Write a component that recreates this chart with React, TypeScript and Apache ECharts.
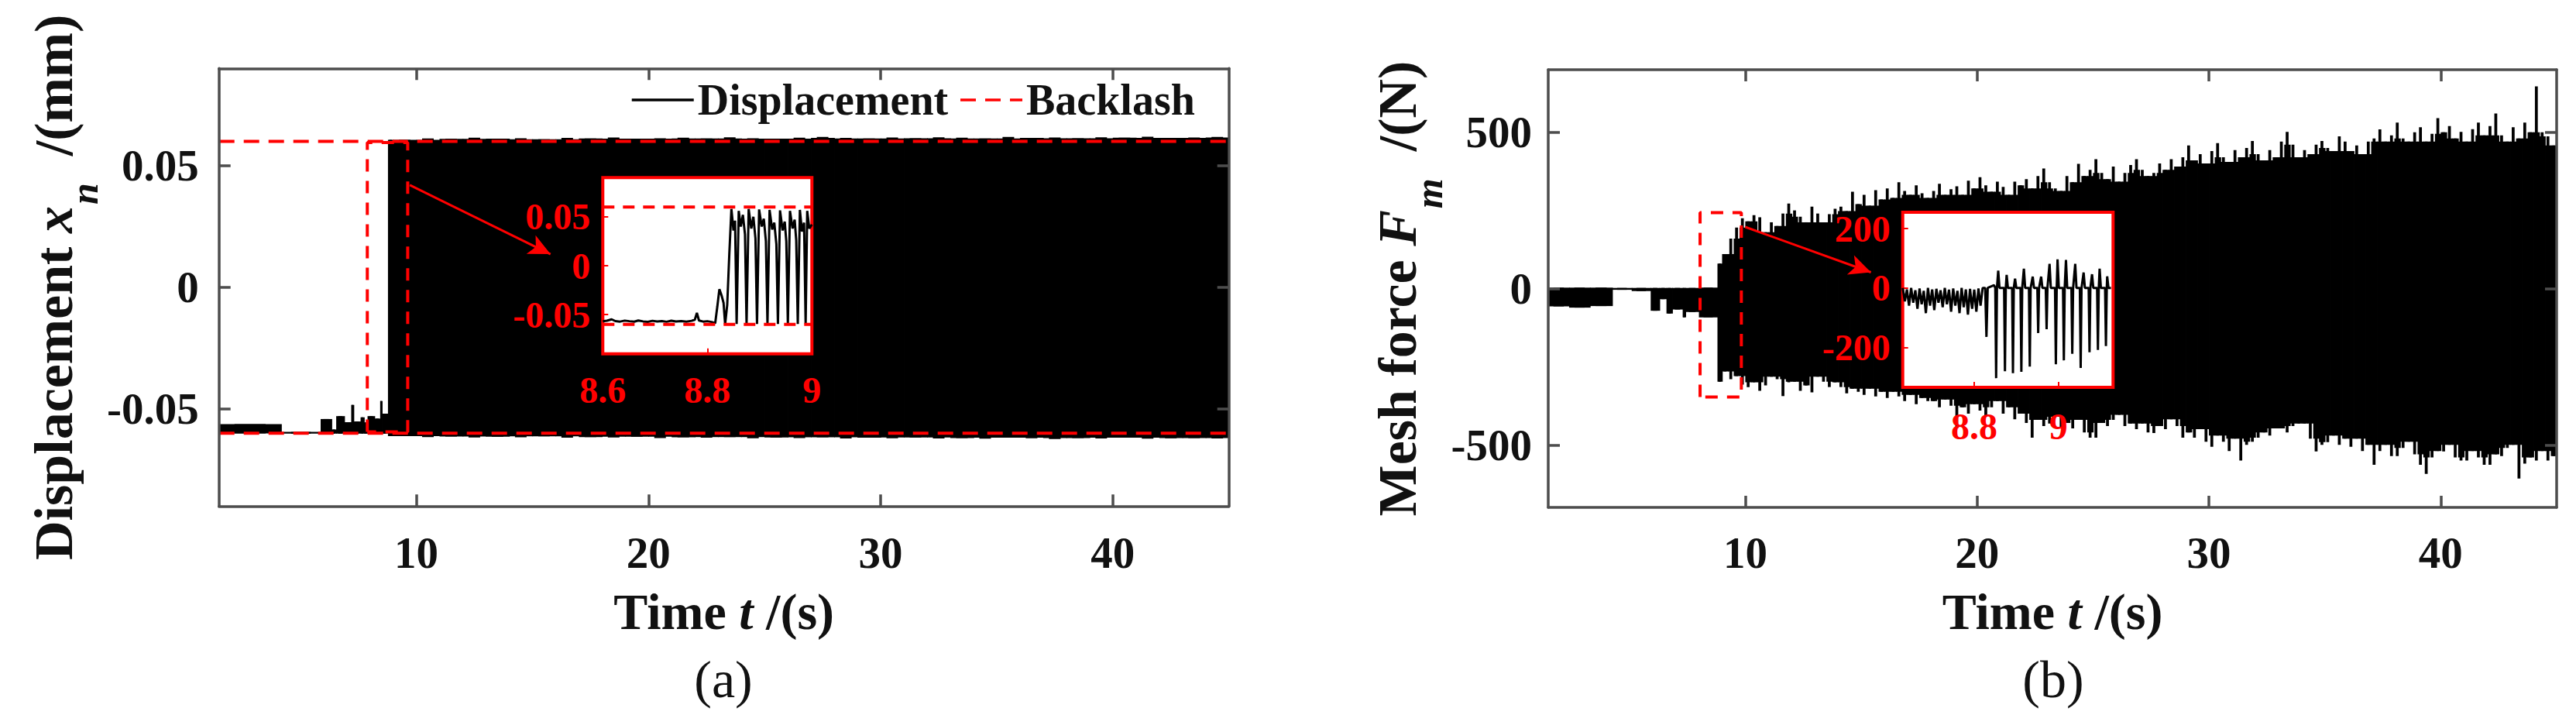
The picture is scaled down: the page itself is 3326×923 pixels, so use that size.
import React, { useEffect, useRef } from "react";
import * as echarts from "echarts";

// ---------------- styling constants ----------------
const FONT = "'Liberation Serif', 'Times New Roman', Times, serif";
const RED = "#ff0000";
const INK = "#111111";
const FRAME = "#4d4d4d";

// ---------------- shared time axis ----------------
const TIME_MIN = 1.5;
const TIME_MAX = 45;
const timeTicks = [10, 20, 30, 40];

// ---------------- (a) displacement ----------------
const DISP_MIN = -0.09;
const DISP_MAX = 0.09;
const dispTicks = [-0.05, 0, 0.05];
const BACKLASH = 0.06;

// segments before/at engagement: [t0, t1, low, high]
const dispPreSegments = [
  [1.5, 4.18, -0.0601, -0.0563],
  [4.18, 5.88, -0.0602, -0.0595],
  [5.88, 6.35, -0.0602, -0.0542],
  [6.35, 6.55, -0.0602, -0.0585],
  [6.55, 6.9, -0.0602, -0.053],
  [6.9, 7.2, -0.0602, -0.0555],
  [7.2, 7.3, -0.0602, -0.0484],
  [7.3, 7.6, -0.0602, -0.0552],
  [7.6, 7.75, -0.0602, -0.0535],
  [7.75, 7.9, -0.0602, -0.0556],
  [7.9, 8.2, -0.0602, -0.053],
  [8.2, 8.45, -0.0602, -0.054],
  [8.45, 8.52, -0.0602, -0.0468],
  [8.52, 8.78, -0.0602, -0.052],
  [8.78, 9.0, -0.0612, 0.0606],
];
// envelope of the rattling band, one value per second from t = 9 s
const DISP_BAND_START = 9;
const DISP_BAND_STEP = 1;
const dispUpper = [
  0.0606, 0.0612, 0.061, 0.0615, 0.0611, 0.0613, 0.0609, 0.0614, 0.0612, 0.0616,
  0.0611, 0.0613, 0.0615, 0.0612, 0.0617, 0.0613, 0.0611, 0.0615, 0.0618, 0.0614,
  0.0612, 0.0616, 0.0613, 0.0617, 0.0615, 0.0612, 0.0618, 0.0614, 0.0616, 0.0613,
  0.0617, 0.0615, 0.0619, 0.0614, 0.0616, 0.0618,
];
const dispLower = [
  -0.0612, -0.0616, -0.0614, -0.0618, -0.0615, -0.0617, -0.0613, -0.0619, -0.0616, -0.0618,
  -0.0615, -0.062, -0.0617, -0.0619, -0.0616, -0.0621, -0.0618, -0.062, -0.0617, -0.0622,
  -0.0619, -0.0621, -0.0618, -0.0622, -0.062, -0.0623, -0.0619, -0.0621, -0.0624, -0.062,
  -0.0622, -0.0619, -0.0623, -0.0621, -0.062, -0.0622,
];
const dispZoomBox = [7.89, 9.63, -0.0595, 0.0595];
const dispArrow = [
  [9.72, 0.042],
  [15.78, 0.0136],
];

// inset of (a)
const insetDispTimeRange = [8.6, 9.0];
const insetDispTimeTicks = [8.6, 8.8, 9.0];
const insetDisp = [
  [8.6, -0.0568], [8.608, -0.0562], [8.617, -0.0548], [8.624, -0.0566], [8.633, -0.0571],
  [8.642, -0.0561], [8.651, -0.0567], [8.66, -0.0572], [8.668, -0.056], [8.677, -0.0569],
  [8.686, -0.0574], [8.695, -0.0563], [8.704, -0.057], [8.713, -0.0566], [8.722, -0.0573],
  [8.731, -0.0562], [8.74, -0.057], [8.75, -0.0566], [8.76, -0.0572], [8.77, -0.0563],
  [8.776, -0.0552], [8.78, -0.0482], [8.784, -0.056], [8.792, -0.0571], [8.8, -0.0567],
  [8.808, -0.0575], [8.815, -0.0588], [8.819, -0.042], [8.823, -0.024], [8.827, -0.03],
  [8.831, -0.038], [8.834, -0.0598], [8.838, -0.04], [8.842, 0.012], [8.846, 0.058],
  [8.85, 0.036], [8.853, 0.046], [8.856, -0.0595],
  [8.86, 0.056], [8.864, 0.04], [8.868, 0.052], [8.872, 0.032], [8.875, -0.0595],
  [8.879, 0.058], [8.884, 0.038], [8.888, 0.05], [8.892, 0.028], [8.895, -0.0595],
  [8.899, 0.0575], [8.904, 0.04], [8.908, 0.048], [8.912, 0.025], [8.915, -0.0595],
  [8.919, 0.057], [8.924, 0.037], [8.928, 0.044], [8.932, 0.022], [8.935, -0.0595],
  [8.939, 0.0565], [8.944, 0.036], [8.948, 0.045], [8.951, 0.025], [8.954, -0.0595],
  [8.958, 0.056], [8.963, 0.038], [8.967, 0.047], [8.97, 0.026], [8.973, -0.0595],
  [8.977, 0.057], [8.981, 0.035], [8.985, 0.044], [8.988, -0.0595],
  [8.991, 0.056], [8.995, 0.038], [9.0, 0.042],
];

// ---------------- (b) mesh force ----------------
const FORCE_MIN = -700;
const FORCE_MAX = 700;
const forceTicks = [-500, 0, 500];
const forcePreSegments = [
  [1.5, 2.4, -57, 3],
  [2.4, 3.3, -61, 3],
  [3.3, 4.26, -56, 3],
  [4.26, 5.1, -4, 2],
  [5.1, 5.92, -8, 2],
  [5.92, 6.3, -71, 2],
  [6.3, 6.6, -34, 2],
  [6.6, 6.85, -80, 2],
  [6.85, 7.3, -67, 2],
  [7.3, 7.42, -92, 2],
  [7.42, 8.0, -75, 2],
  [8.0, 8.8, -92, 3],
  [8.8, 9.0, -298, 80],
];
// envelope of the force band, four values per second from t = 9 s
const FORCE_BAND_START = 9;
const FORCE_BAND_STEP = 0.25;
const forceUpper = [
  110, 160, 195, 225, 215, 235, 228, 180, 212, 200, 240, 272,
  250, 230, 212, 262, 240, 212, 238, 255, 262, 248, 310, 270,
  300, 265, 315, 285, 320, 290, 340, 312, 300, 330, 305, 290,
  312, 335, 300, 318, 327, 300, 345, 320, 356, 330, 310, 342,
  325, 300, 342, 330, 350, 320, 360, 384, 340, 320, 312, 360,
  340, 399, 360, 380, 414, 370, 350, 390, 342, 370, 395, 414,
  380, 360, 370, 400, 380, 414, 390, 420, 458, 410, 430, 400,
  440, 465, 420, 405, 443, 420, 450, 472, 430, 410, 443, 420,
  470, 501, 460, 420, 443, 430, 460, 472, 450, 440, 487, 470,
  440, 458, 430, 470, 480, 509, 470, 490, 531, 480, 470, 500,
  516, 470, 495, 545, 500, 520, 480, 501, 470, 510, 531, 490,
  520, 560, 490, 470, 516, 480, 531, 500, 647, 500, 487, 458,
];
const forceLower = [
  -265, -290, -280, -307, -315, -300, -327, -310, -282, -290, -344, -300,
  -298, -327, -310, -332, -282, -298, -315, -300, -315, -335, -320, -330,
  -340, -320, -345, -330, -350, -330, -345, -360, -340, -370, -350, -360,
  -360, -380, -355, -375, -447, -380, -400, -370, -390, -410, -380, -360,
  -400, -380, -418, -400, -430, -477, -420, -440, -432, -410, -447, -430,
  -447, -420, -460, -477, -477, -430, -440, -420, -404, -440, -432, -450,
  -432, -460, -462, -440, -450, -418, -440, -477, -460, -477, -450, -490,
  -506, -470, -490, -520, -480, -550, -500, -490, -477, -460, -470, -447,
  -447, -460, -440, -432, -432, -480, -521, -500, -491, -470, -500, -480,
  -506, -480, -520, -500, -564, -520, -500, -536, -536, -510, -490, -530,
  -564, -593, -540, -520, -521, -500, -540, -550, -550, -520, -540, -564,
  -564, -530, -536, -510, -500, -608, -560, -540, -550, -520, -550, -536,
];
const forceZoomBox = [8.05, 9.83, -347, 243];
const forceArrow = [
  [10.0, 197],
  [15.42, 52],
];

// inset of (b)
const insetForceTimeRange = [8.63, 9.13];
const insetForceTimeTicks = [8.8, 9.0];
const insetForceRange = [-335, 255];
const insetForceTicks = [-200, 0, 200];
const insetForce = [
  [8.63, 0], [8.635, -45], [8.64, -5], [8.645, -60], [8.65, 0], [8.655, -50], [8.66, -8],
  [8.665, -70], [8.67, -2], [8.675, -55], [8.68, -10], [8.685, -85], [8.69, 0], [8.695, -60],
  [8.7, -5], [8.705, -75], [8.71, -3], [8.715, -50], [8.72, -8], [8.725, -65], [8.73, 0],
  [8.735, -55], [8.74, -6], [8.745, -80], [8.75, -2], [8.755, -60], [8.76, -10], [8.765, -85],
  [8.77, 0], [8.775, -65], [8.78, -5], [8.785, -90], [8.79, -3], [8.795, -70], [8.8, -6],
  [8.805, -80], [8.81, -2], [8.815, -60], [8.82, 0],
  [8.826, 0], [8.829, -165], [8.832, 0], [8.847, 9], [8.85, 0], [8.852, -304], [8.854, 0],
  [8.857, 58], [8.86, 0], [8.871, 0], [8.873, -281], [8.875, 0], [8.877, 44], [8.88, 0],
  [8.89, 0], [8.892, -287], [8.894, 0], [8.897, 31], [8.9, 0], [8.91, 0], [8.912, -283],
  [8.914, 0], [8.918, 65], [8.921, 0], [8.93, 0], [8.932, -265], [8.934, 0], [8.939, 38],
  [8.942, 0], [8.95, 0], [8.952, -152], [8.954, 0], [8.959, 38], [8.962, 0], [8.97, 0],
  [8.972, -139], [8.974, 0], [8.979, 81], [8.982, 0], [8.992, 0], [8.994, -257], [8.996, 0],
  [8.998, 96], [9.001, 0], [9.011, 0], [9.013, -244], [9.015, 0], [9.018, 94], [9.021, 0],
  [9.031, 0], [9.033, -222], [9.035, 0], [9.04, 81], [9.043, 0], [9.051, 0], [9.053, -270],
  [9.055, 0], [9.06, 52], [9.063, 0], [9.072, 0], [9.074, -217], [9.076, 0], [9.08, 46],
  [9.083, 0], [9.092, 0], [9.094, -209], [9.096, 0], [9.098, 65], [9.101, 0], [9.111, 0],
  [9.113, -196], [9.115, 0], [9.116, 39], [9.119, 0], [9.125, 0],
];

// ---------------- helpers ----------------
// rows: [t0, t1, low, high, lowShoulder, highShoulder]
// the shoulder is the lesser neighbouring envelope value, so local peaks draw as thin spikes
function bandRows(pre: number[][], start: number, step: number, up: number[], lo: number[]) {
  const rows = pre.map((r) => [r[0], r[1], r[2], r[3], r[2], r[3]]);
  const n = Math.min(up.length, lo.length);
  for (let i = 0; i < n; i++) {
    const a = Math.max(0, i - 1);
    const b = Math.min(n - 1, i + 1);
    const hiS = Math.min(up[a], up[i], up[b]);
    const loS = Math.max(lo[a], lo[i], lo[b]);
    rows.push([start + i * step, start + (i + 1) * step, lo[i], up[i], loS, hiS]);
  }
  return rows;
}

function boxPath(b: number[]) {
  const [t0, t1, lo, hi] = b;
  return [
    [t0, lo],
    [t0, hi],
    [t1, hi],
    [t1, lo],
    [t0, lo],
  ];
}

const renderBand = (_params: any, api: any) => {
  const t0 = api.value(0);
  const t1 = api.value(1);
  const core0 = api.coord([t0, api.value(5)]);
  const core1 = api.coord([t1, api.value(4)]);
  const peak0 = api.coord([t0, api.value(3)]);
  const peak1 = api.coord([t1, api.value(2)]);
  const w = core1[0] - core0[0];
  const spikeW = Math.max(w * 0.5, 2.5);
  return {
    type: "group",
    children: [
      {
        type: "rect",
        shape: { x: core0[0], y: core0[1], width: w + 0.8, height: Math.max(core1[1] - core0[1], 2) },
        style: { fill: "#000" },
      },
      {
        type: "rect",
        shape: {
          x: core0[0] + (w - spikeW) / 2,
          y: peak0[1],
          width: spikeW,
          height: Math.max(peak1[1] - peak0[1], 2),
        },
        style: { fill: "#000" },
      },
    ],
  };
};

const mainAxis = (ticks: number[], showLabel: boolean, margin: number) => ({
  type: "value",
  z: 6,
  axisLine: { show: true, onZero: false, lineStyle: { color: FRAME, width: 3.5 } },
  axisTick: {
    show: true,
    inside: true,
    length: 15,
    customValues: ticks,
    lineStyle: { color: FRAME, width: 3.5 },
  },
  axisLabel: {
    show: showLabel,
    customValues: ticks,
    margin,
    color: INK,
    fontFamily: FONT,
    fontWeight: "bold",
    fontSize: 57,
  },
  splitLine: { show: false },
});

const insetAxis = (ticks: number[], margin: number) => ({
  type: "value",
  z: 11,
  axisLine: { show: false, onZero: false },
  axisTick: {
    show: true,
    inside: true,
    length: 7,
    customValues: ticks,
    lineStyle: { color: RED, width: 2 },
  },
  axisLabel: {
    customValues: ticks,
    margin,
    color: RED,
    fontFamily: FONT,
    fontWeight: "bold",
    fontSize: 48,
  },
  splitLine: { show: false },
});

const xTitleRich = {
  b: { fontFamily: FONT, fontWeight: "bold", fontSize: 66, color: INK, lineHeight: 66 },
  i: { fontFamily: FONT, fontWeight: "bold", fontStyle: "italic", fontSize: 66, color: INK, lineHeight: 66 },
};
const yTitleRich = {
  b: { fontFamily: FONT, fontWeight: "bold", fontSize: 70, color: INK, lineHeight: 70 },
  i: { fontFamily: FONT, fontWeight: "bold", fontStyle: "italic", fontSize: 70, color: INK, lineHeight: 70 },
  s: {
    fontFamily: FONT,
    fontWeight: "bold",
    fontStyle: "italic",
    fontSize: 50,
    color: INK,
    lineHeight: 50,
    padding: [80, 0, 0, 2],
  },
};

function buildOption() {
  const dispBand = bandRows(dispPreSegments, DISP_BAND_START, DISP_BAND_STEP, dispUpper, dispLower);
  const forceBand = bandRows(forcePreSegments, FORCE_BAND_START, FORCE_BAND_STEP, forceUpper, forceLower);

  const arrowMark = (arrow: number[][]) => ({
    silent: true,
    symbol: ["none", "arrow"],
    symbolSize: [20, 28],
    label: { show: false },
    lineStyle: { color: RED, width: 3, type: "solid" },
    data: [[{ coord: arrow[0] }, { coord: arrow[1] }]],
  });

  return {
    animation: false,
    backgroundColor: "#ffffff",
    grid: [
      { left: 282.7, top: 88.3, width: 1304, height: 565 },
      { left: 1999, top: 90, width: 1302, height: 565 },
      {
        left: 778.3, top: 229.3, width: 270, height: 227.4,
        show: true, backgroundColor: "#ffffff", borderColor: RED, borderWidth: 4, z: 10,
      },
      {
        left: 2456.7, top: 274, width: 271.6, height: 226,
        show: true, backgroundColor: "#ffffff", borderColor: RED, borderWidth: 4, z: 10,
      },
    ],
    xAxis: [
      {
        ...mainAxis(timeTicks, true, 32),
        gridIndex: 0, position: "bottom", min: TIME_MIN, max: TIME_MAX,
        name: "{b|Time }{i|t}{b| /(s)}", nameLocation: "middle", nameGap: 103,
        nameTextStyle: { rich: xTitleRich },
      },
      { ...mainAxis(timeTicks, false, 0), gridIndex: 0, position: "top", min: TIME_MIN, max: TIME_MAX },
      {
        ...mainAxis(timeTicks, true, 30),
        gridIndex: 1, position: "bottom", min: TIME_MIN, max: TIME_MAX,
        name: "{b|Time }{i|t}{b| /(s)}", nameLocation: "middle", nameGap: 101,
        nameTextStyle: { rich: xTitleRich },
      },
      { ...mainAxis(timeTicks, false, 0), gridIndex: 1, position: "top", min: TIME_MIN, max: TIME_MAX },
      {
        ...insetAxis(insetDispTimeTicks, 23),
        gridIndex: 2, position: "bottom", min: insetDispTimeRange[0], max: insetDispTimeRange[1],
      },
      {
        ...insetAxis(insetForceTimeTicks, 26),
        gridIndex: 3, position: "bottom", min: insetForceTimeRange[0], max: insetForceTimeRange[1],
      },
    ],
    yAxis: [
      {
        ...mainAxis(dispTicks, true, 26),
        gridIndex: 0, position: "left", min: DISP_MIN, max: DISP_MAX,
        name: "{b|Displacement }{i|x}{s|n}{b|  /(mm)}", nameLocation: "middle", nameGap: 161,
        nameTextStyle: { rich: yTitleRich },
      },
      { ...mainAxis(dispTicks, false, 0), gridIndex: 0, position: "right", min: DISP_MIN, max: DISP_MAX },
      {
        ...mainAxis(forceTicks, true, 21),
        gridIndex: 1, position: "left", min: FORCE_MIN, max: FORCE_MAX,
        name: "{b|Mesh force }{i|F}{s|m}{b|  /(N)}", nameLocation: "middle", nameGap: 149,
        nameTextStyle: { rich: yTitleRich },
      },
      { ...mainAxis(forceTicks, false, 0), gridIndex: 1, position: "right", min: FORCE_MIN, max: FORCE_MAX },
      { ...insetAxis(dispTicks, 16), gridIndex: 2, position: "left", min: DISP_MIN, max: DISP_MAX },
      {
        ...insetAxis(insetForceTicks, 16),
        gridIndex: 3, position: "left", min: insetForceRange[0], max: insetForceRange[1],
      },
    ],
    legend: {
      data: ["Displacement", "Backlash"],
      selectedMode: false,
      left: 814,
      top: 101,
      padding: 0,
      itemWidth: 80,
      itemHeight: 20,
      itemGap: 14,
      lineStyle: { width: 3.5 },
      itemStyle: { opacity: 0 },
      textStyle: { fontFamily: FONT, fontWeight: "bold", fontSize: 56, color: INK },
    },
    graphic: [
      {
        type: "text", x: 934, y: 877, z: 20,
        style: { text: "(a)", fontFamily: FONT, fontSize: 68, fill: INK, align: "center", verticalAlign: "middle" },
      },
      {
        type: "text", x: 2651, y: 877, z: 20,
        style: { text: "(b)", fontFamily: FONT, fontSize: 68, fill: INK, align: "center", verticalAlign: "middle" },
      },
    ],
    series: [
      // ----- (a) main
      {
        name: "dispBand", type: "custom", xAxisIndex: 0, yAxisIndex: 0, z: 2, silent: true,
        renderItem: renderBand, encode: { x: [0, 1], y: [2, 3] }, data: dispBand,
      },
      {
        name: "Backlash", type: "line", xAxisIndex: 0, yAxisIndex: 0, z: 3, symbol: "none", silent: true,
        lineStyle: { color: RED, width: 4, type: [20, 12] }, itemStyle: { color: RED },
        data: [[TIME_MIN, BACKLASH], [TIME_MAX, BACKLASH]],
      },
      {
        name: "Backlash", type: "line", xAxisIndex: 0, yAxisIndex: 0, z: 3, symbol: "none", silent: true,
        lineStyle: { color: RED, width: 4, type: [20, 12] }, itemStyle: { color: RED },
        data: [[TIME_MIN, -BACKLASH], [TIME_MAX, -BACKLASH]],
      },
      {
        name: "dispZoom", type: "line", xAxisIndex: 0, yAxisIndex: 0, z: 4, symbol: "none", silent: true,
        lineStyle: { color: RED, width: 4, type: [16, 12] }, itemStyle: { color: RED },
        data: boxPath(dispZoomBox), markLine: arrowMark(dispArrow),
      },
      // ----- (a) inset
      {
        name: "Displacement", type: "line", xAxisIndex: 4, yAxisIndex: 4, z: 12, symbol: "none", silent: true,
        lineStyle: { color: "#000", width: 3 }, itemStyle: { color: "#000" }, data: insetDisp,
      },
      {
        name: "Backlash", type: "line", xAxisIndex: 4, yAxisIndex: 4, z: 12, symbol: "none", silent: true,
        lineStyle: { color: RED, width: 4, type: [15, 11] }, itemStyle: { color: RED },
        data: [[insetDispTimeRange[0], BACKLASH], [insetDispTimeRange[1], BACKLASH]],
      },
      {
        name: "Backlash", type: "line", xAxisIndex: 4, yAxisIndex: 4, z: 12, symbol: "none", silent: true,
        lineStyle: { color: RED, width: 4, type: [15, 11] }, itemStyle: { color: RED },
        data: [[insetDispTimeRange[0], -BACKLASH], [insetDispTimeRange[1], -BACKLASH]],
      },
      // ----- (b) main
      {
        name: "forceBand", type: "custom", xAxisIndex: 2, yAxisIndex: 2, z: 2, silent: true,
        renderItem: renderBand, encode: { x: [0, 1], y: [2, 3] }, data: forceBand,
      },
      {
        name: "forceZoom", type: "line", xAxisIndex: 2, yAxisIndex: 2, z: 4, symbol: "none", silent: true,
        lineStyle: { color: RED, width: 4, type: [16, 12] }, itemStyle: { color: RED },
        data: boxPath(forceZoomBox), markLine: arrowMark(forceArrow),
      },
      // ----- (b) inset
      {
        name: "forceInset", type: "line", xAxisIndex: 5, yAxisIndex: 5, z: 12, symbol: "none", silent: true,
        lineStyle: { color: "#000", width: 3 }, itemStyle: { color: "#000" }, data: insetForce,
      },
    ],
  };
}

export default function App() {
  const ref = useRef<HTMLDivElement>(null);
  useEffect(() => {
    if (!ref.current) return;
    const chart = echarts.init(ref.current, null, { renderer: "svg" });
    chart.setOption(buildOption() as any);
    return () => chart.dispose();
  }, []);
  return (
    <div
      ref={ref}
      style={{ position: "fixed", left: 0, top: 0, width: 3326, height: 923, background: "#ffffff" }}
    />
  );
}
